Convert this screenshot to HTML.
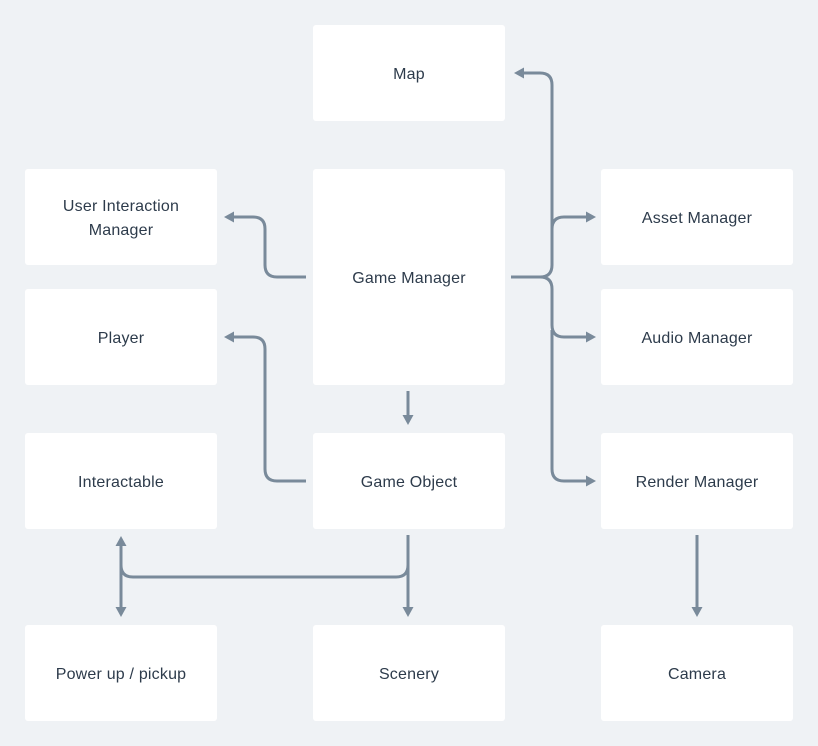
<!DOCTYPE html>
<html><head><meta charset="utf-8"><style>
html,body{margin:0;padding:0;}
body{width:818px;height:746px;background:#eff2f5;position:relative;overflow:hidden;font-family:"Liberation Sans",sans-serif;}
.b{position:absolute;background:#fff;border-radius:3px;display:flex;align-items:center;justify-content:center;text-align:center;color:#2d3b4b;font-size:16px;line-height:24px;letter-spacing:0.2px;box-sizing:border-box;padding-top:3px;}
svg{position:absolute;left:0;top:0;}
</style></head><body>
<div class="b" style="left:313px;top:25px;width:192px;height:96px">Map</div>
<div class="b" style="left:25px;top:169px;width:192px;height:96px">User Interaction<br>Manager</div>
<div class="b" style="left:313px;top:169px;width:192px;height:216px">Game Manager</div>
<div class="b" style="left:601px;top:169px;width:192px;height:96px">Asset Manager</div>
<div class="b" style="left:25px;top:289px;width:192px;height:96px">Player</div>
<div class="b" style="left:601px;top:289px;width:192px;height:96px">Audio Manager</div>
<div class="b" style="left:25px;top:433px;width:192px;height:96px">Interactable</div>
<div class="b" style="left:313px;top:433px;width:192px;height:96px">Game Object</div>
<div class="b" style="left:601px;top:433px;width:192px;height:96px">Render Manager</div>
<div class="b" style="left:25px;top:625px;width:192px;height:96px">Power up / pickup</div>
<div class="b" style="left:313px;top:625px;width:192px;height:96px">Scenery</div>
<div class="b" style="left:601px;top:625px;width:192px;height:96px">Camera</div>
<svg width="818" height="746" viewBox="0 0 818 746">
<defs><marker id="a" markerWidth="10" markerHeight="11" refX="2" refY="5.5" orient="auto" markerUnits="userSpaceOnUse"><path d="M0,0 L10,5.5 L0,11 Z" fill="#798a9a"/></marker></defs>
<g fill="none" stroke="#798a9a" stroke-width="3" marker-end="url(#a)">
<path d="M511 277 H540 Q552 277 552 265 V85 Q552 73 540 73 H522"/>
<path d="M552 229 Q552 217 564 217 H588"/>
<path d="M511 277 H540 Q552 277 552 289 V325 Q552 337 564 337 H588"/>
<path d="M552 330 V469 Q552 481 564 481 H588"/>
<path d="M306 277 H277 Q265 277 265 265 V229 Q265 217 253 217 H232"/>
<path d="M306 481 H277 Q265 481 265 469 V349 Q265 337 253 337 H232"/>
<path d="M408 391 V417"/>
<path d="M408 535 V609"/>
<path d="M408 565 Q408 577 396 577 H133 Q121 577 121 565 V544"/>
<path d="M121 560 V609"/>
<path d="M697 535 V609"/>
</g>
</svg>
</body></html>
